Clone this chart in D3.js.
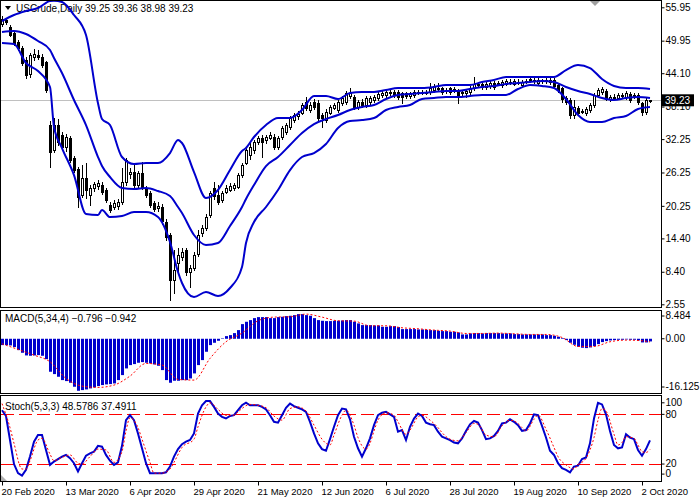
<!DOCTYPE html>
<html>
<head>
<meta charset="utf-8">
<script src="https://cdn.jsdelivr.net/npm/d3@7"></script>
<style>
  body { margin: 0; background: #fff; overflow: hidden; }
  svg { display: block; font-family: "Liberation Sans", Arial, sans-serif; }
  .axis text { font-size: 10px; fill: #000; }
  .axis.dates text { font-size: 9.5px; }
  .axis line { stroke: #000; }
  .label { font-size: 10px; fill: #000; }
</style>
</head>
<body>
<script>
// USCrude daily, 20 Feb - 6 Oct 2020
const title = 'USCrude,Daily'
const holidays = ['2020-04-10']

const opens = [52.9,53.7,52.4,51.3,49.7,48.6,46.5,44.0,47.0,47.3,
  47.0,46.1,34.8,30.3,34.8,33.0,30.8,32.4,28.8,26.9,
  22.2,25.3,22.2,23.5,23.8,24.0,23.1,20.4,20.0,20.1,
  20.9,24.5,25.9,26.3,24.0,26.1,23.4,22.6,20.8,19.9,
  20.0,17.4,15.0,6.9,10.0,11.0,12.3,8.3,9.0,11.5,
  15.4,16.3,18.6,23.4,22.2,21.3,22.8,23.2,23.5,23.7,
  25.8,28.0,29.4,30.3,31.7,32.4,32.0,32.5,32.6,30.8,
  32.6,33.5,34.4,35.7,36.4,37.0,38.9,37.5,38.9,38.7,
  36.6,35.7,37.0,37.9,37.5,38.7,38.9,40.0,39.8,38.0,
  38.9,38.4,38.9,39.3,39.6,40.2,40.2,40.5,40.7,40.7,
  40.5,40.5,39.9,40.2,40.7,40.6,40.7,40.7,41.1,41.5,
  41.4,40.9,41.4,41.1,40.9,40.5,40.5,40.7,41.4,42.0,
  42.2,41.6,41.8,42.3,42.2,42.0,42.2,42.5,42.2,42.6,
  42.0,42.6,42.9,42.9,42.3,42.8,42.7,42.5,42.9,42.0,
  41.4,39.6,39.3,36.6,37.8,37.2,36.9,37.5,38.4,40.2,
  40.7,40.9,39.4,39.8,39.7,40.2,39.8,40.4,39.9,40.2,
  38.7,37.1,39.25]

const highs = [54.4,53.9,52.8,51.6,50.1,49.0,47.0,47.8,48.5,48.2,
  47.6,46.3,35.5,36.1,35.9,33.5,33.2,32.8,29.3,27.3,
  27.6,27.9,24.0,24.6,24.9,24.5,23.5,21.0,21.3,21.5,
  27.0,28.9,27.0,27.6,26.5,28.1,23.8,23.0,21.2,20.9,
  20.5,17.8,15.4,12.3,12.7,12.6,12.7,9.6,11.9,15.9,
  16.8,18.8,23.0,24.5,24.0,23.0,24.0,24.4,24.4,26.2,
  28.0,30.8,31.5,32.1,32.8,32.9,33.0,33.5,33.2,32.8,
  34.6,35.2,36.4,37.0,37.3,38.8,39.8,38.9,39.4,39.2,
  37.0,37.6,38.4,38.8,39.3,40.0,40.9,41.4,40.2,39.3,
  39.4,40.0,40.0,40.2,40.7,40.9,41.1,41.2,41.1,41.0,
  40.8,40.8,40.8,41.0,41.0,41.0,41.1,42.3,42.2,42.3,
  41.7,41.5,41.7,41.6,41.2,41.0,41.3,41.8,43.4,42.5,
  42.5,42.6,42.7,42.7,42.7,42.9,43.1,43.0,43.1,43.0,
  42.9,43.1,43.5,43.3,43.3,43.1,43.2,43.3,43.2,42.3,
  41.7,40.0,39.6,39.2,38.2,37.7,38.1,38.8,40.6,41.5,
  41.6,41.2,40.2,40.3,40.6,40.5,40.9,40.8,40.5,40.5,
  39.0,39.7,39.36]

const lows = [52.6,52.9,50.8,49.2,48.3,45.6,43.3,43.4,46.5,46.6,
  45.3,40.8,27.2,30.0,31.2,30.3,30.2,28.2,26.3,20.0,
  21.8,21.7,20.4,23.0,23.3,22.4,21.0,19.2,19.6,19.7,
  20.5,24.0,25.3,23.6,23.5,23.2,21.8,20.0,19.4,19.3,
  17.0,14.1,3.3,4.6,8.6,10.6,7.9,5.7,8.7,11.3,
  14.8,15.9,18.2,21.4,20.6,20.9,22.5,22.9,23.1,23.4,
  25.5,27.7,28.7,29.8,31.4,29.0,31.6,32.2,30.4,30.5,
  32.3,33.2,34.0,35.3,35.9,36.7,37.4,37.1,37.6,35.7,
  34.4,35.3,36.7,37.6,37.2,38.4,38.6,39.7,37.6,37.7,
  38.0,38.1,38.6,39.0,39.3,39.9,39.9,40.1,39.9,39.4,
  38.7,39.6,39.6,39.9,40.3,40.3,40.4,40.4,40.8,41.1,
  40.4,40.6,40.4,40.8,38.7,40.1,39.8,40.4,41.1,41.7,
  41.3,41.3,41.5,41.3,41.9,41.7,41.9,42.2,41.9,42.2,
  41.7,42.3,42.6,42.4,42.0,42.4,42.4,42.2,41.5,40.8,
  39.0,38.5,36.0,36.0,36.6,36.9,36.6,37.2,38.1,39.9,
  40.4,39.2,39.1,39.5,39.4,39.8,39.5,39.0,39.6,38.6,
  36.6,36.8,38.98]

const closes = [53.8,53.3,51.0,49.5,48.6,45.9,43.8,47.4,47.6,47.0,
  45.6,41.1,29.9,34.8,31.7,30.8,32.6,28.5,26.7,21.8,
  25.3,23.1,23.5,24.2,24.4,22.7,21.3,19.5,20.7,20.9,
  24.5,28.5,26.3,24.0,26.1,23.6,22.2,20.4,19.8,20.3,
  17.4,14.7,6.9,8.7,11.4,11.9,8.3,9.0,11.4,15.0,
  16.3,18.3,22.6,21.9,21.0,22.6,23.5,23.9,24.0,25.8,
  27.6,30.3,30.8,31.7,32.4,31.7,32.6,33.0,30.8,32.4,
  34.2,34.8,36.0,36.6,36.7,38.4,37.8,38.4,38.0,36.0,
  36.0,37.2,38.0,38.4,38.9,39.6,40.5,40.5,38.0,38.9,
  38.4,39.6,39.6,39.8,40.3,40.5,40.7,40.7,40.2,39.8,
  39.8,39.9,40.5,40.7,40.6,40.7,40.8,41.4,41.8,41.4,
  40.7,41.1,40.7,41.3,40.0,40.7,40.9,41.4,42.2,42.1,
  41.6,42.2,42.3,41.6,42.3,42.5,42.7,42.6,42.7,42.5,
  42.5,42.7,43.1,42.7,42.9,42.7,42.8,42.9,41.8,41.1,
  39.4,38.9,36.6,38.0,36.9,37.3,37.7,38.4,40.2,41.1,
  41.2,39.5,39.8,39.9,40.2,40.1,40.5,39.3,40.1,38.9,
  37.1,39.3,39.23]

// Bollinger bands, read at these bar numbers
const bbIdx = [0,3,6,9,12,13,15,18,21,24,25,27,30,33,36,39,42,44,45,48,
  51,54,57,60,61,63,66,69,72,75,78,81,84,87,90,93,96,99,102,105,
  108,111,114,117,120,123,126,129,132,135,138,141,144,147,150,153,156,159,162]
const bbUpper = [53.48,54.56,55.28,55.82,57.08,57.15,56.90,54.56,50.97,38.70,
  35.86,34.78,29.03,27.77,27.95,27.95,29.75,32.09,31.55,26.33,
  21.66,23.10,26.69,30.11,30.65,32.63,34.78,36.04,36.04,37.48,
  40.00,40.00,39.46,40.54,40.72,40.72,41.08,41.44,41.44,41.44,
  41.62,41.98,41.98,41.98,42.52,42.88,43.42,43.42,43.42,43.42,
  43.42,44.67,45.57,45.03,43.06,41.80,41.44,41.44,41.26]
const bbMiddle = [51.51,51.69,51.15,49.89,48.27,46.83,44.13,39.28,34.78,29.03,
  27.41,25.44,23.46,23.28,23.46,22.92,22.02,20.04,18.96,15.01,
  13.21,13.57,16.63,20.04,21.48,24.00,27.41,29.03,31.19,33.35,
  34.96,35.86,36.58,37.48,38.02,38.38,39.46,40.18,40.36,40.54,
  40.72,40.90,40.90,41.26,41.62,41.80,42.16,42.34,42.52,42.70,
  42.52,41.62,40.90,40.36,39.64,39.28,39.64,39.82,39.64]
const bbLower = [49.53,49.35,45.93,44.49,41.62,34.42,30.65,25.79,18.78,18.60,
  19.50,18.24,18.42,19.14,19.14,18.24,13.75,8.35,6.38,3.86,
  4.76,4.04,5.48,9.25,13.57,17.34,20.04,23.10,26.69,29.03,
  29.75,31.37,34.25,35.50,35.68,36.04,37.48,38.02,38.38,39.46,
  39.64,39.82,39.82,40.00,40.18,40.18,40.18,41.26,41.98,41.80,
  41.44,39.46,36.58,35.32,35.32,36.04,36.40,37.66,38.02]

// MACD(5,34,4) histogram, one per bar
const macdHist = [-1.9,-1.9,-2.0,-2.5,-3.4,-4.2,-5.0,-5.1,-5.0,-4.9,
  -5.1,-6.1,-9.9,-10.6,-11.4,-12.4,-12.7,-13.2,-14.4,-15.6,
  -15.4,-15.2,-14.9,-14.6,-14.2,-13.9,-13.7,-13.6,-13.4,-12.4,
  -10.9,-8.9,-7.9,-7.6,-7.2,-7.0,-7.2,-7.4,-7.7,-8.1,
  -9.4,-12.4,-13.2,-12.6,-12.6,-12.4,-12.4,-11.9,-10.4,-7.9,
  -6.4,-3.9,-1.9,-1.2,-0.6,0.1,0.8,1.1,1.7,2.6,
  4.4,5.1,5.6,6.2,6.5,6.5,6.5,6.2,6.2,6.5,
  6.6,6.8,6.9,7.1,7.4,7.4,7.1,6.9,6.2,5.6,
  5.4,5.3,5.3,5.4,5.4,5.5,5.6,5.6,5.1,4.6,
  4.1,4.1,4.1,4.0,4.0,3.6,3.6,3.8,3.8,3.5,
  2.9,2.9,2.9,2.9,2.8,2.8,2.7,2.6,2.6,2.4,
  2.3,2.3,2.1,2.1,1.9,1.3,1.3,1.6,1.7,1.7,
  1.6,1.7,1.7,1.7,1.7,1.6,1.6,1.6,1.4,1.4,
  1.3,1.3,1.3,1.3,1.3,1.3,1.1,1.1,0.9,0.6,
  0.2,-0.4,-1.2,-1.8,-2.4,-2.7,-2.8,-2.6,-2.2,-1.6,
  -1.0,-0.7,-0.5,-0.4,-0.3,-0.3,-0.2,-0.3,-0.3,-0.5,
  -1.1,-1.1,-0.796]
const signalIdx = [0,4,8,12,16,20,24,28,32,36,40,44,48,52,56,60,64,68,72,76,
  80,84,88,92,96,100,104,108,112,116,120,124,128,132,136,140,144,148,152,156,160,162]
const signalVal = [-1.5,-3.2,-4.9,-6.9,-11.9,-14.2,-14.6,-13.9,-11.2,-7.4,
  -7.9,-12.2,-12.4,-5.9,-0.9,1.7,5.4,6.5,6.6,7.4,
  6.5,5.4,5.3,3.9,3.9,3.3,3.0,2.6,2.3,1.6,
  1.6,1.7,1.5,1.3,1.3,0.4,-2.3,-2.3,-0.9,-0.4,
  -0.6,-0.942]

// Stoch(5,3,3): %K per bar, %D read at these bar numbers
const stochK = [85,78,49,20,9,6,13,29,47,55,
  55,37,19,23,26,29,31,27,21,11,
  21,30,33,35,42,41,31,24,19,22,
  42,73,79,73,57,39,21,9,9,9,
  9,10,17,29,38,44,47,49,57,81,
  91,96,96,89,81,77,75,78,79,85,
  91,94,91,91,91,89,86,79,71,70,
  79,88,93,90,88,86,83,71,57,45,
  38,36,50,65,79,87,86,74,53,39,
  29,39,51,67,79,82,83,80,77,59,
  61,49,65,75,81,78,70,68,67,59,
  53,51,49,46,45,51,60,68,72,70,
  61,50,51,54,60,69,70,74,71,67,
  60,61,69,80,79,66,52,36,31,21,
  15,13,10,17,18,26,28,45,75,94,
  92,80,60,43,39,40,56,52,50,37,
  30,38,48.5786]
const stochDIdx = [0,2,3,5,6,7,9,10,12,13,15,17,19,20,22,24,26,28,30,31,
  32,34,35,37,38,40,42,43,45,48,49,51,52,54,56,58,59,62,64,66,
  68,70,72,74,76,78,80,82,83,85,86,88,89,91,92,93,94,96,98,99,
  101,102,104,105,107,109,110,112,114,116,118,119,121,123,125,127,129,130,131,133,
  134,136,138,139,141,143,144,146,148,149,150,151,153,154,155,156,158,159,160,161,162]
const stochD = [93,64,45,14,14,24,49,51,32,24,28,31,21,20,29,38,37,22,35,60,
  76,64,50,22,9,9,14,22,40,50,65,89,94,86,79,79,83,92,91,88,
  78,73,87,89,84,67,50,43,55,79,85,67,52,38,45,60,73,82,79,71,
  56,61,77,79,73,64,58,50,48,58,69,68,55,53,66,73,69,64,60,74,
  79,62,40,29,19,14,19,27,52,73,87,84,56,43,46,53,51,43,35,34,37.4911]

const priceTicks = [55.95, 49.95, 44.10, 38.10, 32.25, 26.25, 20.25, 14.40, 8.40, 2.55]
const macdTicks = [8.484, 0, -16.125]
const macdTickText = ['8.484', '0.00', '-16.125']
const stochTicks = [100, 80, 20, 0]
const stochLevels = [80, 20]
const tickLabels = ['20 Feb 2020', '13 Mar 2020', '6 Apr 2020', '29 Apr 2020', '21 May 2020',
  '12 Jun 2020', '6 Jul 2020', '28 Jul 2020', '19 Aug 2020', '10 Sep 2020', '2 Oct 2020']

// trading calendar: weekdays minus the days the feed skipped
const isoDay = d3.timeFormat('%Y-%m-%d')
const dates = d3.timeDay.range(new Date(2020, 1, 20), new Date(2020, 9, 7))
  .filter(d => d.getDay() % 6 !== 0 && !holidays.includes(isoDay(d)))

const BLUE = '#0000cd'
const RED = '#ff0000'

class CrudeChart {

  initialize() {
    this.width = 700
    this.height = 500
    this.plotRight = 661

    this.panes = {
      main: { top: 0.5, bottom: 307.5 },
      macd: { top: 310.5, bottom: 393.5 },
      stoch: { top: 395.5, bottom: 481.5 }
    }

    this.candles = dates.map((date, i) => ({
      i, date,
      open: opens[i], high: highs[i], low: lows[i], close: closes[i]
    }))
    this.last = this.candles[this.candles.length - 1]

    this.x = d3.scaleLinear()
      .domain([0, this.candles.length - 1])
      .range([2, 650])

    this.yMain = d3.scaleLinear().domain([2.55, 55.95]).range([304.3, 7.3])
    this.yMacd = d3.scaleLinear().domain([-16.125, 8.484]).range([392.5, 310.5])
    this.yStoch = d3.scaleLinear().domain([0, 100]).range([480.6, 397.8])

    this.svg = d3.select('body')
      .append('svg')
      .attr('width', this.width)
      .attr('height', this.height)

    const defs = this.svg.append('defs')
    for (let name in this.panes) {
      const p = this.panes[name]
      defs.append('clipPath')
        .attr('id', `clip-${name}`)
        .append('rect')
        .attr('x', 1)
        .attr('y', p.top + 0.5)
        .attr('width', this.plotRight - 1)
        .attr('height', p.bottom - p.top - 1)
    }

    this.drawMain()
    this.drawMacd()
    this.drawStoch()
    this.drawFrames()
    this.drawDates()
  }

  col(i) {
    return Math.round(this.x(i))
  }

  drawMain() {
    const g = this.svg.append('g').attr('clip-path', 'url(#clip-main)')
    const fmt = d3.format('.2f')

    // header, sits under the bands like in the terminal
    g.append('path').attr('d', 'M5,6 L11,6 L8,10 Z').attr('fill', '#000')
    g.append('text').attr('class', 'label').attr('x', 16).attr('y', 12).text(title)
    g.append('text').attr('class', 'label').attr('x', 85).attr('y', 12)
      .text([this.last.open, this.last.high, this.last.low, this.last.close].map(fmt).join(' '))

    // current price line
    const yLast = Math.round(this.yMain(this.last.close)) + 0.5
    g.append('line')
      .attr('x1', 1).attr('x2', this.plotRight)
      .attr('y1', yLast).attr('y2', yLast)
      .style('stroke', '#c0c0c0')

    const bars = g.append('g').selectAll('g')
      .data(this.candles)
      .enter()
      .append('g')

    bars.append('line')
      .attr('x1', d => this.col(d.i) + 0.5)
      .attr('x2', d => this.col(d.i) + 0.5)
      .attr('y1', d => Math.round(this.yMain(d.high)))
      .attr('y2', d => Math.round(this.yMain(d.low)) + 1)
      .style('stroke', '#000')

    bars.append('rect')
      .attr('x', d => this.col(d.i) - 0.5)
      .attr('width', 2)
      .attr('y', d => Math.round(this.yMain(Math.max(d.open, d.close))) + 0.5)
      .attr('height', d => Math.max(1, Math.round(Math.abs(this.yMain(d.open) - this.yMain(d.close)))))
      .style('fill', d => d.close >= d.open ? '#fff' : '#000')
      .style('stroke', '#000')

    // Bollinger bands
    const band = d3.line()
      .x(d => this.x(d[0]))
      .y(d => this.yMain(d[1]))
      .curve(d3.curveMonotoneX)

    for (let values of [bbUpper, bbMiddle, bbLower]) {
      g.append('path')
        .datum(d3.zip(bbIdx, values))
        .attr('d', band)
        .style('fill', 'none')
        .style('stroke', BLUE)
        .style('stroke-width', 2)
    }

    const axis = this.svg.append('g')
      .attr('class', 'axis')
      .attr('transform', `translate(${this.plotRight + 0.5}, 0)`)
      .call(d3.axisRight(this.yMain).tickValues(priceTicks).tickSize(3).tickPadding(1).tickFormat(fmt))
    axis.select('.domain').remove()

    // last price tag
    const tag = this.svg.append('g')
      .attr('transform', `translate(${this.plotRight + 1}, ${this.yMain(this.last.close)})`)
    tag.append('rect')
      .attr('x', 0).attr('y', -6)
      .attr('width', 32).attr('height', 12)
      .style('fill', '#000')
    tag.append('text')
      .attr('x', 3).attr('dy', '0.35em')
      .style('font-size', '10px')
      .style('fill', '#fff')
      .text(fmt(this.last.close))

    // chart shift marker
    this.svg.append('path').attr('d', 'M590,1 L600,1 L595,6 Z').attr('fill', '#a0a0a0')
  }

  drawMacd() {
    const g = this.svg.append('g').attr('clip-path', 'url(#clip-macd)')
    const y0 = this.yMacd(0)

    g.selectAll('rect')
      .data(macdHist)
      .enter()
      .append('rect')
      .attr('x', (d, i) => this.col(i) - 1)
      .attr('width', 3)
      .attr('y', d => Math.min(y0, this.yMacd(d)))
      .attr('height', d => Math.max(0.5, Math.abs(this.yMacd(d) - y0)))
      .style('fill', BLUE)

    const line = d3.line()
      .x(d => this.x(d[0]))
      .y(d => this.yMacd(d[1]))
      .curve(d3.curveMonotoneX)

    g.append('path')
      .datum(d3.zip(signalIdx, signalVal))
      .attr('d', line)
      .style('fill', 'none')
      .style('stroke', RED)
      .style('stroke-dasharray', '2,2')

    const last = macdHist[macdHist.length - 1]
    const sig = signalVal[signalVal.length - 1]
    g.append('text')
      .attr('class', 'label')
      .attr('x', 5)
      .attr('y', 322)
      .text(`MACD(5,34,4) ${d3.format('.3f')(last)} ${d3.format('.3f')(sig)}`)

    const axis = this.svg.append('g')
      .attr('class', 'axis')
      .attr('transform', `translate(${this.plotRight + 0.5}, 0)`)
      .call(d3.axisRight(this.yMacd).tickValues(macdTicks).tickSize(3).tickPadding(1)
        .tickFormat((d, i) => macdTickText[i]))
    axis.select('.domain').remove()
    // the extreme labels are pulled inside the window
    axis.selectAll('.tick')
      .attr('transform', d => `translate(0, ${this.yMacd(d) + (d === 8.484 ? 5.5 : d === -16.125 ? -5.5 : 0)})`)
  }

  drawStoch() {
    const g = this.svg.append('g').attr('clip-path', 'url(#clip-stoch)')

    g.selectAll('.level')
      .data(stochLevels)
      .enter()
      .append('line')
      .attr('class', 'level')
      .attr('x1', 1).attr('x2', this.plotRight)
      .attr('y1', d => Math.round(this.yStoch(d)) + 0.5)
      .attr('y2', d => Math.round(this.yStoch(d)) + 0.5)
      .style('stroke', RED)
      .style('stroke-dasharray', '13,5')

    g.append('path')
      .datum(stochK)
      .attr('d', d3.line().x((d, i) => this.x(i)).y(d => this.yStoch(d)))
      .style('fill', 'none')
      .style('stroke', BLUE)
      .style('stroke-width', 2)

    g.append('path')
      .datum(d3.zip(stochDIdx, stochD))
      .attr('d', d3.line().x(d => this.x(d[0])).y(d => this.yStoch(d[1])).curve(d3.curveMonotoneX))
      .style('fill', 'none')
      .style('stroke', RED)
      .style('stroke-dasharray', '2,2')

    g.append('text')
      .attr('class', 'label')
      .attr('x', 5)
      .attr('y', 410)
      .text(`Stoch(5,3,3) ${d3.format('.4f')(stochK[stochK.length - 1])} ${d3.format('.4f')(stochD[stochD.length - 1])}`)

    const axis = this.svg.append('g')
      .attr('class', 'axis')
      .attr('transform', `translate(${this.plotRight + 0.5}, 0)`)
      .call(d3.axisRight(this.yStoch).tickValues(stochTicks).tickSize(3).tickPadding(1))
    axis.select('.domain').remove()
    axis.selectAll('.tick')
      .attr('transform', d => `translate(0, ${this.yStoch(d) + (d === 100 ? 5 : d === 0 ? -6.5 : 0)})`)

    this.svg.append('path').attr('d', 'M1,475 L1,481 L7,481 Z').attr('fill', '#b0b0b0')
  }

  drawFrames() {
    for (let name in this.panes) {
      const p = this.panes[name]
      this.svg.append('rect')
        .attr('x', 0.5)
        .attr('y', p.top)
        .attr('width', this.plotRight)
        .attr('height', p.bottom - p.top)
        .style('fill', 'none')
        .style('stroke', '#000')
    }
  }

  drawDates() {
    const labelFmt = d3.timeFormat('%-d %b %Y')
    const tickIdx = tickLabels.map(l => dates.findIndex(d => labelFmt(d) === l))

    const axis = this.svg.append('g')
      .attr('class', 'axis dates')
      .attr('transform', `translate(0.5, ${this.panes.stoch.bottom})`)
      .call(d3.axisBottom(this.x).tickValues(tickIdx).tickSize(4).tickPadding(3)
        .tickFormat((d, i) => tickLabels[i]))
    axis.select('.domain').remove()
    axis.selectAll('.tick').attr('transform', d => `translate(${this.col(d)}, 0)`)
    axis.selectAll('text').attr('text-anchor', 'start').attr('x', -1)
  }

}

(new CrudeChart()).initialize()
</script>
</body>
</html>
